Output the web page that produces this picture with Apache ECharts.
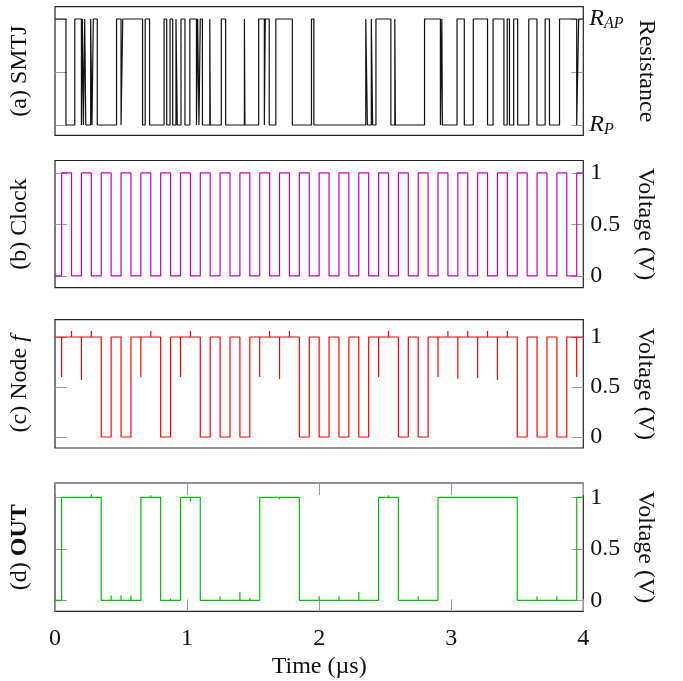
<!DOCTYPE html>
<html><head><meta charset="utf-8">
<script src="https://cdn.jsdelivr.net/npm/echarts@6/dist/echarts.min.js"></script>
<style>html,body{margin:0;padding:0;background:#fff}#c{width:683px;height:681px}</style>
</head><body><div id="c"></div>
<script>
// ---- data (times in µs) ----
const xTicks = [0, 1, 2, 3, 4];
const smtjEdges = [0.083, 0.150, 0.200, 0.207, 0.215, 0.225, 0.233, 0.270, 0.280, 0.290, 0.320,
  0.466, 0.500, 0.513, 0.663, 0.683, 0.716, 0.826, 0.846, 0.871, 0.891, 0.916, 0.926, 0.954, 0.984,
  1.021, 1.071, 1.080, 1.090, 1.100, 1.116, 1.172, 1.176, 1.259, 1.292, 1.434, 1.438, 1.542, 1.585,
  1.592, 1.622, 1.672, 1.797, 1.942, 1.960, 2.353, 2.365, 2.395, 2.405, 2.430, 2.543, 2.573, 2.577,
  2.798, 2.918, 2.929, 2.933, 3.044, 3.099, 3.167, 3.275, 3.317, 3.399, 3.424, 3.441, 3.473, 3.503,
  3.587, 3.649, 3.711, 3.744, 3.820, 3.950, 3.965];
const clockRise = [0.05, 0.20, 0.35, 0.50, 0.65, 0.80, 0.95, 1.10, 1.25, 1.40, 1.55, 1.70, 1.85, 2.00,
  2.15, 2.30, 2.45, 2.60, 2.75, 2.90, 3.05, 3.20, 3.35, 3.50, 3.65, 3.80, 3.95];
const clockFall = [0.125, 0.275, 0.425, 0.575, 0.725, 0.875, 1.025, 1.175, 1.325, 1.475, 1.625, 1.775,
  1.925, 2.075, 2.225, 2.375, 2.525, 2.675, 2.825, 2.975, 3.125, 3.275, 3.425, 3.575, 3.725, 3.875];
const nodeFall = [0.35, 0.50, 0.80, 1.10, 1.25, 1.40, 1.85, 2.00, 2.15, 2.30, 2.60, 2.75, 3.50, 3.65, 3.80];
const nodeRise = [0.425, 0.575, 0.875, 1.175, 1.325, 1.475, 1.925, 2.075, 2.225, 2.375, 2.675, 2.825, 3.575, 3.725, 3.875];
const nodeDipTimes = [0.05, 0.20, 0.65, 0.95, 1.55, 1.70, 2.45, 2.90, 3.05, 3.20, 3.35, 3.95];
const nodeDipLevels = [0.60, 0.57, 0.60, 0.60, 0.60, 0.58, 0.60, 0.60, 0.58, 0.59, 0.57, 0.60];
const nodeBumpTimes = [0.125, 0.275, 0.725, 1.025, 1.625, 1.775, 2.525, 2.975, 3.125, 3.275, 3.425];
const nodeBumpLevels = [1.06, 1.06, 1.06, 1.06, 1.06, 1.06, 1.06, 1.06, 1.06, 1.06, 1.06];
const outRise = [0.05, 0.65, 0.95, 1.55, 2.45, 2.90, 3.95];
const outFall = [0.35, 0.80, 1.10, 1.85, 2.60, 3.50];
const outGlitchTimes = [0.125, 0.20, 0.275, 0.425, 0.50, 0.575, 0.725, 0.875, 1.025, 1.25, 1.40, 1.475,
  1.625, 1.70, 1.775, 2.00, 2.15, 2.30, 2.525, 2.75, 3.65, 3.80];
const outGlitchLevels = [1.01, 1.01, 1.03, 0.05, 0.05, 0.05, 1.02, 0.02, 0.96, 0.04, 0.08, 0.02,
  1.01, 0.98, 1.01, 0.04, 0.04, 0.08, 1.02, 0.04, 0.04, 0.04];
const voltTicks = [0, 0.5, 1];

// ---- build step polylines from the edge lists ----
function stepLine(edges, startHigh, lo, hi) {
  const pts = []; let s = startHigh;
  pts.push([0, s ? hi : lo]);
  edges.forEach(t => { pts.push([t, s ? hi : lo]); s = !s; pts.push([t, s ? hi : lo]); });
  pts.push([4, s ? hi : lo]);
  return pts;
}
// events: falls, rises and short excursions that return to the current level
function eventLine(start, falls, rises, spikeTimes, spikeLevels) {
  const ev = [];
  falls.forEach(t => ev.push([t, 'f']));
  rises.forEach(t => ev.push([t, 'r']));
  spikeTimes.forEach((t, i) => ev.push([t, spikeLevels[i]]));
  ev.sort((a, b) => a[0] - b[0]);
  let lvl = start; const pts = [[0, lvl]];
  ev.forEach(([t, k]) => {
    if (k === 'f') { pts.push([t, 1], [t, 0]); lvl = 0; }
    else if (k === 'r') { pts.push([t, 0], [t, 1]); lvl = 1; }
    else { pts.push([t, lvl], [t, k], [t, lvl]); }
  });
  pts.push([4, lvl]);
  return pts;
}
const clockEdges = clockRise.concat(clockFall).sort((a, b) => a - b);
const nodeSpikeT = nodeDipTimes.concat(nodeBumpTimes);
const nodeSpikeV = nodeDipLevels.concat(nodeBumpLevels);

const FONT = 'Liberation Serif';
const FS = 24;
const L = 50.7, W = 532.6;
const grids = [
  { left: L, width: W, top: 6.7, height: 128.6 },
  { left: L, width: W, top: 160.5, height: 127.2 },
  { left: L, width: W, top: 319.7, height: 128.3 },
  { left: L, width: W, top: 483, height: 128.3 }
].map(g => Object.assign(g, { show: true, borderColor: '#222', borderWidth: 1.2, containLabel: false }));
const yRanges = [[-0.097, 1.116], [-0.114, 1.121], [-0.11, 1.173], [-0.107, 1.139]];
const leftNames = ['(a) SMTJ', '(b) Clock', '(c) Node {it|f}', '(d) {b|OUT}'];

const tick = (vals) => ({ show: true, inside: true, length: 12, customValues: vals, lineStyle: { color: '#999', width: 1 } });
const noLine = { show: false, onZero: false };
const xAxis = [], yAxis = [];
for (let i = 0; i < 4; i++) {
  xAxis.push({
    type: 'value', gridIndex: i, min: 0, max: 4, position: 'bottom',
    axisLine: noLine, splitLine: { show: false },
    axisTick: i === 3 ? tick(xTicks) : { show: false },
    axisLabel: i === 3 ? { show: true, customValues: xTicks, margin: 15, color: '#111', fontFamily: FONT, fontSize: FS } : { show: false },
    name: i === 3 ? 'Time (µs)' : '', nameLocation: 'middle', nameGap: 43,
    nameTextStyle: { color: '#111', fontFamily: FONT, fontSize: FS }
  });
}
// top x axis for bottom panel (inside ticks only)
xAxis.push({
  type: 'value', gridIndex: 3, min: 0, max: 4, position: 'top',
  axisLine: noLine, splitLine: { show: false },
  axisTick: tick(xTicks), axisLabel: { show: false }
});
for (let i = 0; i < 4; i++) {
  const [mn, mx] = yRanges[i];
  yAxis.push({
    type: 'value', gridIndex: i, min: mn, max: mx, position: 'left',
    axisLine: noLine, splitLine: { show: false },
    axisTick: tick(voltTicks), axisLabel: { show: false },
    name: leftNames[i], nameLocation: 'middle', nameGap: 23, nameRotate: 90,
    nameTextStyle: { color: '#111', fontFamily: FONT, fontSize: FS,
      rich: { it: { fontStyle: 'italic', fontFamily: FONT, fontSize: FS, color: '#111' },
              b: { fontWeight: 'bold', fontFamily: FONT, fontSize: FS, color: '#111' } } }
  });
  yAxis.push({
    type: 'value', gridIndex: i, min: mn, max: mx, position: 'right',
    axisLine: noLine, splitLine: { show: false },
    axisTick: tick(voltTicks),
    axisLabel: i === 0 ? {
      show: true, customValues: [0, 1], margin: 6, color: '#111',
      formatter: v => v === 1 ? '{R|R}{s|AP}' : '{R|R}{s|P}',
      rich: { R: { fontStyle: 'italic', fontFamily: FONT, fontSize: FS, color: '#111' },
              s: { fontStyle: 'italic', fontFamily: FONT, fontSize: 16, color: '#111', padding: [10, 0, 0, 0] } }
    } : { show: true, customValues: voltTicks, margin: 7, color: '#111', fontFamily: FONT, fontSize: FS,
          formatter: v => String(v) },
    name: i === 0 ? 'Resistance' : 'Voltage (V)', nameLocation: 'middle', nameGap: 50, nameRotate: -90,
    nameTextStyle: { color: '#111', fontFamily: FONT, fontSize: FS }
  });
}

const ln = (c) => ({ color: c, width: 1.2 });
const series = [
  { type: 'line', xAxisIndex: 0, yAxisIndex: 1, data: stepLine(smtjEdges, true, 0, 1), showSymbol: false, lineStyle: ln('#111') },
  { type: 'line', xAxisIndex: 1, yAxisIndex: 3, data: stepLine(clockEdges, false, 0, 1), showSymbol: false, lineStyle: ln('#c000c8') },
  { type: 'line', xAxisIndex: 2, yAxisIndex: 5, data: eventLine(1, nodeFall, nodeRise, nodeSpikeT, nodeSpikeV), showSymbol: false, lineStyle: ln('#ff0000') },
  { type: 'line', xAxisIndex: 3, yAxisIndex: 7, data: eventLine(0, outFall, outRise, outGlitchTimes, outGlitchLevels), showSymbol: false, lineStyle: ln('#00c000') }
];

const chart = echarts.init(document.getElementById('c'), null, { renderer: 'canvas' });
chart.setOption({ animation: false, backgroundColor: '#fff', grid: grids, xAxis, yAxis, series });
</script></body></html>
